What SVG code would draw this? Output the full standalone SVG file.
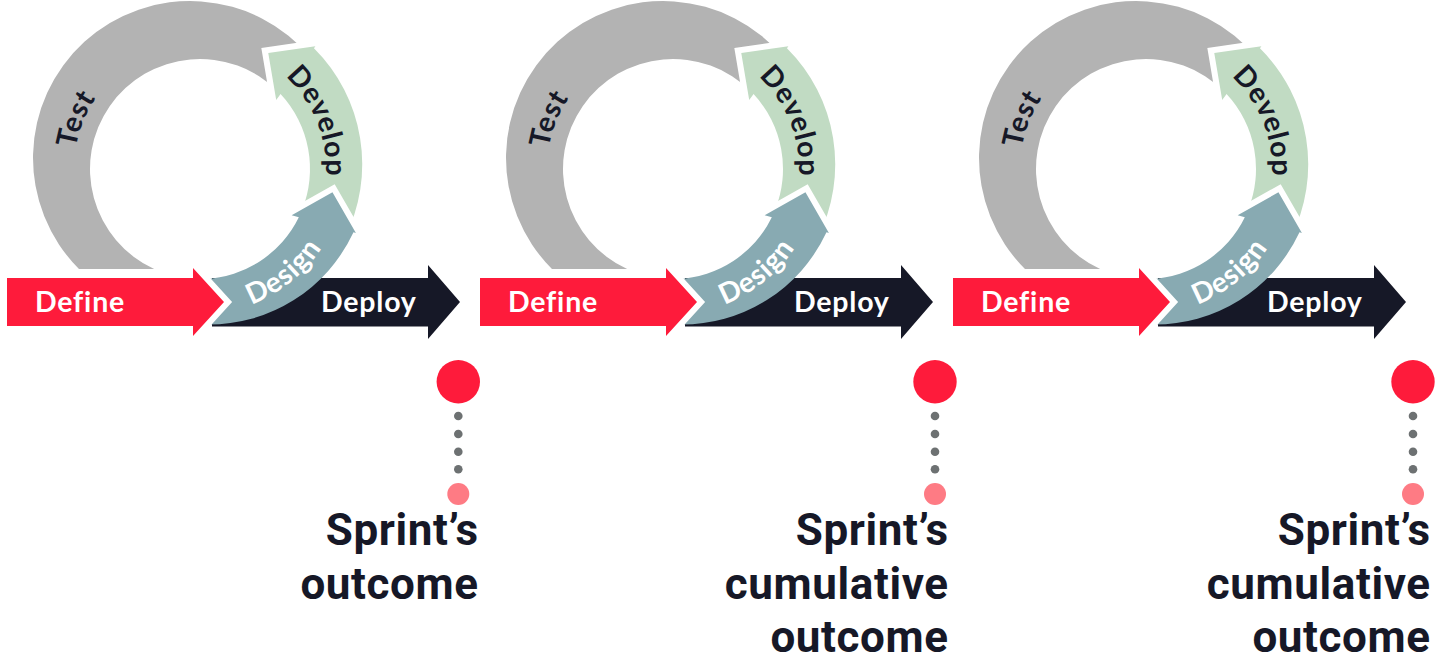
<svg xmlns="http://www.w3.org/2000/svg" width="1448" height="655" viewBox="0 0 1448 655">
<style>
  .lbl{font-family:Lato,"Noto Sans","Liberation Sans",sans-serif;font-weight:700;font-size:28.5px;letter-spacing:0.8px}
  .light{fill:#ffffff}
  .dark{fill:#161827}
  .gap{fill:#ffffff;stroke:#ffffff;stroke-width:12;stroke-linejoin:miter;stroke-miterlimit:4}
  .c-define{fill:#fe1b3b}
  .c-deploy{fill:#161827}
  .c-design{fill:#88aab2}
  .c-develop{fill:#c1dbc3}
  .c-test{fill:#b3b3b3}
  .milestone{fill:#fe1b3b}
  .end{fill:#fe7b84}
  .dot{fill:#6d7172}
  .out{font-family:Roboto,"Liberation Sans",sans-serif;font-weight:700;font-size:44px;letter-spacing:0.6px;fill:#161827;text-anchor:end}
</style>
<defs>
  <!-- ring centre (200,169); inner radius 110, grey ring outer radius 157 -->
  <path id="test-shape" d="M311.02,57.98 A157,157 0 1 0 78.97,269 L154.17,269 A110,110 0 1 1 277.78,91.22 Z"/>
  <path id="develop-shape" d="M344.7,238 A163.6,163.6 0 0 0 313.95,48.3 L315.42,46.28 L268.26,53.11 L276.2,100.1 L280.57,94.11 A110,110 0 0 1 301.99,210.21 L300.7,220.3 Z"/>
  <polygon id="develop-head" points="315.42,46.28 268.26,53.11 276.2,100.1"/>
  <path id="design-shape" d="M206,324.6 A159.5,159.5 0 0 0 353.49,232.23 L355.9,232.9 L332.46,192.36 L291.66,215.33 L298.83,217.29 A110,110 0 0 1 205,278.89 Z"/>
  <polygon id="design-head" points="355.9,232.9 332.46,192.36 291.66,215.33"/>
  <path id="deploy-shape" d="M212,278 H428 V265 L460,302 L428,339 V326.5 H212 Z"/>
  <path id="define-shape" d="M7,278 H193 V268 L224,302 L193,336 V326 H7 Z"/>
  <polygon id="define-head" points="193,268 224,302 193,336"/>
  <!-- label baselines -->
  <path id="arc-design" d="M197.47,313.98 A145,145 0 0 0 342.34,196.67"/>
  <path id="arc-develop" d="M259.16,57.75 A126,126 0 0 1 319.84,207.94"/>
  <path id="arc-test" d="M80.16,207.94 A126,126 0 0 1 140.84,57.75"/>
</defs>

<!-- sprint 1 -->
<g id="sprint-1">
  <g id="s1-test"><use href="#test-shape" class="c-test"/><text class="lbl dark"><textPath href="#arc-test" startOffset="50%" text-anchor="middle">Test</textPath></text></g>
  <g id="s1-develop"><use href="#develop-head" class="gap"/><use href="#develop-shape" class="c-develop"/><text class="lbl dark"><textPath href="#arc-develop" startOffset="50%" text-anchor="middle">Develop</textPath></text></g>
  <g id="s1-deploy"><use href="#deploy-shape" class="c-deploy"/><text class="lbl light" x="321" y="312">Deploy</text></g>
  <g id="s1-design"><use href="#design-head" class="gap"/><use href="#design-shape" class="c-design"/><text class="lbl light"><textPath href="#arc-design" startOffset="50%" text-anchor="middle">Design</textPath></text></g>
  <g id="s1-define"><use href="#define-head" class="gap"/><use href="#define-shape" class="c-define"/><text class="lbl light" x="35" y="312">Define</text></g>
</g>

<!-- sprint 2 -->
<g id="sprint-2" transform="translate(473,0)">
  <g id="s2-test"><use href="#test-shape" class="c-test"/><text class="lbl dark"><textPath href="#arc-test" startOffset="50%" text-anchor="middle">Test</textPath></text></g>
  <g id="s2-develop"><use href="#develop-head" class="gap"/><use href="#develop-shape" class="c-develop"/><text class="lbl dark"><textPath href="#arc-develop" startOffset="50%" text-anchor="middle">Develop</textPath></text></g>
  <g id="s2-deploy"><use href="#deploy-shape" class="c-deploy"/><text class="lbl light" x="321" y="312">Deploy</text></g>
  <g id="s2-design"><use href="#design-head" class="gap"/><use href="#design-shape" class="c-design"/><text class="lbl light"><textPath href="#arc-design" startOffset="50%" text-anchor="middle">Design</textPath></text></g>
  <g id="s2-define"><use href="#define-head" class="gap"/><use href="#define-shape" class="c-define"/><text class="lbl light" x="35" y="312">Define</text></g>
</g>

<!-- sprint 3 -->
<g id="sprint-3" transform="translate(946,0)">
  <g id="s3-test"><use href="#test-shape" class="c-test"/><text class="lbl dark"><textPath href="#arc-test" startOffset="50%" text-anchor="middle">Test</textPath></text></g>
  <g id="s3-develop"><use href="#develop-head" class="gap"/><use href="#develop-shape" class="c-develop"/><text class="lbl dark"><textPath href="#arc-develop" startOffset="50%" text-anchor="middle">Develop</textPath></text></g>
  <g id="s3-deploy"><use href="#deploy-shape" class="c-deploy"/><text class="lbl light" x="321" y="312">Deploy</text></g>
  <g id="s3-design"><use href="#design-head" class="gap"/><use href="#design-shape" class="c-design"/><text class="lbl light"><textPath href="#arc-design" startOffset="50%" text-anchor="middle">Design</textPath></text></g>
  <g id="s3-define"><use href="#define-head" class="gap"/><use href="#define-shape" class="c-define"/><text class="lbl light" x="35" y="312">Define</text></g>
</g>

<!-- dotted leaders from milestone to outcome -->
<g id="connectors">
  <g class="dot">
    <circle cx="458.3" cy="416" r="4.3"/><circle cx="458.3" cy="434" r="4.3"/><circle cx="458.3" cy="451.7" r="4.3"/><circle cx="458.3" cy="469.3" r="4.3"/>
    <circle cx="935" cy="416" r="4.3"/><circle cx="935" cy="434" r="4.3"/><circle cx="935" cy="451.7" r="4.3"/><circle cx="935" cy="469.3" r="4.3"/>
    <circle cx="1413" cy="416" r="4.3"/><circle cx="1413" cy="434" r="4.3"/><circle cx="1413" cy="451.7" r="4.3"/><circle cx="1413" cy="469.3" r="4.3"/>
  </g>
</g>

<g id="milestone-1"><circle class="milestone" cx="458.3" cy="381.7" r="21.7"/></g>
<g id="milestone-2"><circle class="milestone" cx="935" cy="381.7" r="21.7"/></g>
<g id="milestone-3"><circle class="milestone" cx="1413" cy="381.7" r="21.7"/></g>

<g id="outcome-1">
  <circle class="end" cx="458.3" cy="494" r="11"/>
  <text class="out" x="478.6" y="545">Sprint’s</text>
  <text class="out" x="478.6" y="599">outcome</text>
</g>
<g id="outcome-2">
  <circle class="end" cx="935" cy="494" r="11"/>
  <text class="out" x="948.6" y="545">Sprint’s</text>
  <text class="out" x="948.6" y="599">cumulative</text>
  <text class="out" x="948.6" y="652">outcome</text>
</g>
<g id="outcome-3">
  <circle class="end" cx="1413" cy="494" r="11"/>
  <text class="out" x="1430.6" y="545">Sprint’s</text>
  <text class="out" x="1430.6" y="599">cumulative</text>
  <text class="out" x="1430.6" y="652">outcome</text>
</g>
</svg>
